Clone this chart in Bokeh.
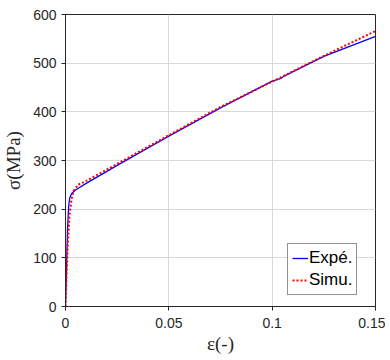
from bokeh.plotting import figure
from bokeh.models import FixedTicker, Legend, LegendItem
from bokeh.embed import file_html
from bokeh.resources import INLINE

# Experimental curve
exp_strain = [0, 0.0005, 0.001, 0.0015, 0.002, 0.0025, 0.003, 0.005, 0.01, 0.025,
              0.05, 0.075, 0.1, 0.104, 0.106, 0.125, 0.15]
exp_stress = [0, 80, 160, 205, 222, 228, 232, 240, 253, 290,
              350, 408, 463, 468, 474, 514, 555]
# Simulated curve
sim_strain = [0, 0.001, 0.002, 0.003, 0.004, 0.006, 0.01, 0.025, 0.05, 0.075,
              0.1, 0.125, 0.15]
sim_stress = [0, 120, 190, 222, 238, 250, 258, 293, 352, 410, 462, 515, 566]

x_ticks = [0, 0.05, 0.1, 0.15]
x_tick_labels = ["0", "0.05", "0.1", "0.15"]
y_ticks = [0, 100, 200, 300, 400, 500, 600]

p = figure(frame_width=310, frame_height=292, x_range=(0, 0.15), y_range=(0, 600),
           output_backend="svg", toolbar_location=None,
           min_border_left=58, min_border_right=10, min_border_top=14, min_border_bottom=45)
p.background_fill_color = "white"
p.border_fill_color = "white"
p.outline_line_color = "#262626"
p.outline_line_width = 1
p.outline_line_alpha = 1

l1 = p.line(exp_strain, exp_stress, line_color="#0000ff", line_width=1.3)
l2 = p.line(sim_strain, sim_stress, line_color="#ff0000", line_width=2, line_dash="2 2")

p.xaxis.ticker = FixedTicker(ticks=x_ticks)
p.xaxis.major_label_overrides = {t: s for t, s in zip(x_ticks, x_tick_labels)}
p.yaxis.ticker = FixedTicker(ticks=y_ticks)

for ax in (p.xaxis[0], p.yaxis[0]):
    ax.axis_line_color = "#262626"
    ax.major_tick_line_color = "#262626"
    ax.major_tick_out = 4
    ax.major_tick_in = 0
    ax.minor_tick_line_color = None
    ax.major_label_text_font = "Liberation Sans"
    ax.major_label_text_font_size = "14px"
    ax.major_label_text_color = "#262626"
    ax.axis_label_text_font = "Liberation Serif"
    ax.axis_label_text_font_size = "19px"
    ax.axis_label_text_font_style = "normal"
    ax.axis_label_text_color = "#262626"

p.xaxis.axis_label = "ε(-)"
p.yaxis.axis_label = "σ(MPa)"
p.xaxis.major_label_standoff = 7
p.xaxis.axis_label_standoff = 2
p.yaxis.major_label_standoff = 5
p.yaxis.axis_label_standoff = 6

p.grid.grid_line_color = "#d9d9d9"
p.grid.grid_line_width = 1

legend = Legend(items=[LegendItem(label="Expé.", renderers=[l1]),
                       LegendItem(label="Simu.", renderers=[l2])],
                location=(222, 11))
legend.label_text_font = "Liberation Sans"
legend.label_text_font_size = "17px"
legend.label_text_color = "black"
legend.glyph_width = 16
legend.glyph_height = 20
legend.label_standoff = 1
legend.label_height = 20
legend.padding = 4
legend.spacing = 2
legend.margin = 0
legend.border_line_color = "#262626"
legend.border_line_width = 1
legend.background_fill_color = "white"
legend.background_fill_alpha = 1
p.add_layout(legend, "center")

open("out.html", "w").write(file_html(p, INLINE))
